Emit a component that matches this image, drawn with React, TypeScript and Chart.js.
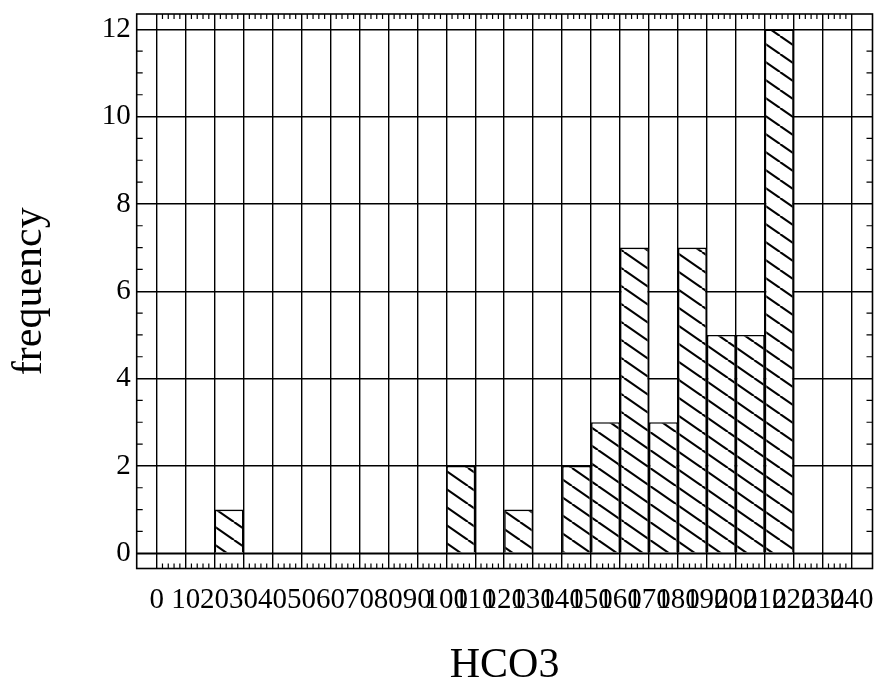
import React, { useEffect, useRef } from "react";
import { Chart, registerables } from "chart.js";

Chart.register(...registerables);

// Histogram bins (lower edge of each 10-wide bin) and their frequencies
const binStarts = [0, 10, 20, 30, 40, 50, 60, 70, 80, 90, 100, 110, 120, 130, 140, 150, 160, 170, 180, 190, 200, 210, 220, 230];
const counts = [0, 0, 1, 0, 0, 0, 0, 0, 0, 0, 2, 0, 1, 0, 2, 3, 7, 3, 7, 5, 5, 12, 0, 0];
const binWidth = 10;

// Axis ticks
const xTicks = [0, 10, 20, 30, 40, 50, 60, 70, 80, 90, 100, 110, 120, 130, 140, 150, 160, 170, 180, 190, 200, 210, 220, 230, 240];
const yTicks = [0, 2, 4, 6, 8, 10, 12];
const xMinorStep = 2;
const yMinorStep = 0.5;

const SERIF = "'Liberation Serif', 'Times New Roman', serif";

function makeHatch(): CanvasPattern | string {
  const W = 26;
  const H = 18;
  const c = document.createElement("canvas");
  c.width = W;
  c.height = H;
  const g = c.getContext("2d");
  if (!g) return "#fff";
  g.fillStyle = "#fff";
  g.fillRect(0, 0, W, H);
  g.strokeStyle = "#000";
  g.lineWidth = 2.1;
  for (const dx of [-W, 0, W]) {
    g.beginPath();
    g.moveTo(dx, 0);
    g.lineTo(dx + W, H);
    g.stroke();
  }
  return g.createPattern(c, "repeat") || "#fff";
}

const framePlugin = {
  id: "frameAndMinorTicks",
  afterDatasetsDraw(chart: any) {
    // baseline (y = 0) stays visible under the bars' lower edge
    const { ctx, chartArea } = chart;
    const y = chart.scales.y;
    const py = y.getPixelForValue(yTicks[0]);
    ctx.save();
    ctx.strokeStyle = "#000";
    ctx.lineWidth = 1.4;
    ctx.beginPath();
    ctx.moveTo(chartArea.left, py);
    ctx.lineTo(chartArea.right, py);
    ctx.stroke();
    ctx.restore();
  },
  afterDraw(chart: any) {
    const { ctx, chartArea } = chart;
    const { left, right, top, bottom } = chartArea;
    const x = chart.scales.x;
    const y = chart.scales.y;
    ctx.save();
    ctx.strokeStyle = "#000";
    ctx.lineWidth = 1.2;
    ctx.beginPath();
    const x0 = xTicks[0];
    const x1 = xTicks[xTicks.length - 1];
    for (let v = x0; v <= x1 + 1e-9; v += xMinorStep) {
      if (xTicks.includes(v)) continue;
      const px = x.getPixelForValue(v);
      ctx.moveTo(px, bottom);
      ctx.lineTo(px, bottom - 5);
      ctx.moveTo(px, top);
      ctx.lineTo(px, top + 5);
    }
    const y0 = yTicks[0];
    const y1 = yTicks[yTicks.length - 1];
    for (let v = y0; v <= y1 + 1e-9; v += yMinorStep) {
      if (yTicks.includes(v)) continue;
      const py = y.getPixelForValue(v);
      ctx.moveTo(left, py);
      ctx.lineTo(left + 6, py);
      ctx.moveTo(right, py);
      ctx.lineTo(right - 6, py);
    }
    ctx.stroke();
    ctx.lineWidth = 1.6;
    ctx.strokeRect(left, top, right - left, bottom - top);
    ctx.restore();
  },
};

export default function App() {
  const canvasRef = useRef<HTMLCanvasElement | null>(null);

  useEffect(() => {
    if (!canvasRef.current) return;
    const hatch = makeHatch();
    const chart = new Chart(canvasRef.current, {
      type: "bar",
      data: {
        datasets: [
          {
            data: binStarts.map((b, i) => ({ x: b + binWidth / 2, y: counts[i] })),
            backgroundColor: ((c: any) => (counts[c.dataIndex] ? hatch : "rgba(0,0,0,0)")) as any,
            borderColor: "#000",
            borderWidth: ((c: any) => (counts[c.dataIndex] ? 1.6 : 0)) as any,
            borderSkipped: "start",
            inflateAmount: 0,
            barPercentage: 1,
            categoryPercentage: 1,
          } as any,
        ],
      },
      options: {
        animation: false,
        responsive: true,
        maintainAspectRatio: false,
        layout: { padding: { top: 14, right: 7.5, left: 0, bottom: 0 } },
        plugins: { legend: { display: false }, tooltip: { enabled: false } },
        scales: {
          x: {
            type: "linear",
            min: -6.9,
            max: 247.2,
            offset: false,
            afterBuildTicks: (s: any) => {
              s.ticks = xTicks.map((v) => ({ value: v }));
            },
            afterFit: (s: any) => {
              s.height = 116.5;
              s.paddingLeft = 0;
              s.paddingRight = 0;
            },
            grid: { color: "#000", lineWidth: 1.4, drawTicks: false, offset: false },
            border: { display: false },
            ticks: {
              autoSkip: false,
              maxRotation: 0,
              minRotation: 0,
              padding: 14,
              color: "#000",
              font: { family: SERIF, size: 29 },
              callback: (v: any) => String(v),
            },
            title: {
              display: true,
              text: "HCO3",
              color: "#000",
              font: { family: SERIF, size: 42, lineHeight: 0.9 },
              padding: 0,
            },
          },
          y: {
            min: -0.35,
            max: 12.35,
            afterBuildTicks: (s: any) => {
              s.ticks = yTicks.map((v) => ({ value: v }));
            },
            afterFit: (s: any) => {
              s.width = 136.7;
              s.paddingTop = 0;
              s.paddingBottom = 0;
            },
            grid: { color: "#000", lineWidth: 1.4, drawTicks: false },
            border: { display: false },
            ticks: {
              padding: 6,
              color: "#000",
              font: { family: SERIF, size: 29 },
              callback: (v: any) => String(v),
            },
            title: {
              display: true,
              text: "frequency",
              color: "#000",
              font: { family: SERIF, size: 42, lineHeight: 1.2 },
              padding: { top: 5, bottom: 0 },
            },
          },
        },
      },
      plugins: [framePlugin],
    });
    return () => chart.destroy();
  }, []);

  return (
    <div style={{ position: "absolute", left: 0, top: 0, width: 880, height: 685 }}>
      <canvas ref={canvasRef} />
    </div>
  );
}
